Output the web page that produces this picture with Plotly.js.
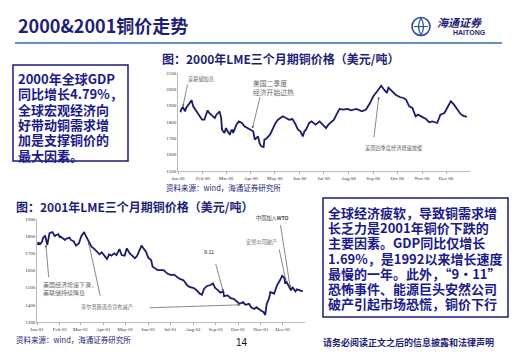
<!DOCTYPE html>
<html><head><meta charset="utf-8">
<script src="https://cdn.plot.ly/plotly-3.0.1.min.js"></script>
<style>html,body{margin:0;padding:0;background:#fff}#c{width:520px;height:359px}</style>
</head><body><div id="c"></div>
<script>
// ---- data: 2000 LME 3-month copper ----
var dates2000 = ['2000-01-04','2000-01-05','2000-01-07','2000-01-10','2000-01-11','2000-01-14','2000-01-18','2000-01-20','2000-01-24','2000-01-26','2000-01-31',
'2000-02-03','2000-02-07','2000-02-09','2000-02-14','2000-02-16','2000-02-18','2000-02-22','2000-02-24','2000-02-25','2000-02-28',
'2000-03-01','2000-03-03','2000-03-06','2000-03-07','2000-03-09','2000-03-10','2000-03-14','2000-03-17','2000-03-21','2000-03-24','2000-03-28','2000-03-31',
'2000-04-04','2000-04-06','2000-04-10','2000-04-12','2000-04-14','2000-04-17','2000-04-18','2000-04-20','2000-04-25','2000-04-28',
'2000-05-02','2000-05-05','2000-05-11','2000-05-15','2000-05-19','2000-05-23','2000-05-26','2000-05-30',
'2000-06-02','2000-06-05','2000-06-07','2000-06-09','2000-06-13','2000-06-16','2000-06-21','2000-06-26','2000-06-30',
'2000-07-04','2000-07-07','2000-07-12','2000-07-14','2000-07-17','2000-07-21','2000-07-25','2000-07-31',
'2000-08-04','2000-08-11','2000-08-18','2000-08-23','2000-08-28',
'2000-09-01','2000-09-06','2000-09-11','2000-09-14','2000-09-18','2000-09-20','2000-09-25','2000-09-29',
'2000-10-04','2000-10-09','2000-10-12','2000-10-16','2000-10-20','2000-10-24','2000-10-27',
'2000-11-02','2000-11-06','2000-11-10','2000-11-14','2000-11-20','2000-11-24','2000-11-29',
'2000-12-04','2000-12-07','2000-12-11','2000-12-15','2000-12-19','2000-12-22','2000-12-27'];
var price2000 = [1859,1876,1892,1865,1885,1906,1933,1896,1865,1845,1814,
1814,1871,1855,1835,1824,1845,1865,1824,1753,1733,
1763,1743,1722,1743,1753,1733,1784,1804,1794,1773,1763,1753,
1743,1692,1712,1671,1651,1647,1692,1696,1722,1753,
1794,1814,1835,1824,1814,1818,1794,1753,
1743,1712,1743,1753,1794,1804,1784,1804,1784,
1763,1784,1804,1814,1845,1880,1876,1880,
1871,1880,1865,1876,1916,
1957,1988,2022,2002,1978,2010,1988,1967,
1953,1947,1937,1896,1886,1835,1845,
1831,1818,1798,1804,1794,1845,1855,
1896,1927,1906,1876,1851,1839,1831];

// ---- data: 2001 LME 3-month copper ----
var dates2001 = ['2001-01-02','2001-01-03','2001-01-05','2001-01-08','2001-01-09','2001-01-11','2001-01-12','2001-01-15','2001-01-17','2001-01-18','2001-01-22','2001-01-23','2001-01-25','2001-01-26','2001-01-30',
'2001-02-01','2001-02-02','2001-02-05','2001-02-08','2001-02-09','2001-02-14','2001-02-16','2001-02-20','2001-02-23','2001-02-27',
'2001-03-02','2001-03-06','2001-03-08','2001-03-09','2001-03-13','2001-03-16','2001-03-19','2001-03-23','2001-03-27','2001-03-30',
'2001-04-02','2001-04-06','2001-04-09','2001-04-12','2001-04-16','2001-04-19','2001-04-23','2001-04-26','2001-04-30',
'2001-05-03','2001-05-07','2001-05-10','2001-05-14','2001-05-17','2001-05-21','2001-05-23','2001-05-25','2001-05-29',
'2001-06-01','2001-06-05','2001-06-07','2001-06-11','2001-06-14','2001-06-18','2001-06-22','2001-06-27',
'2001-07-02','2001-07-06','2001-07-10','2001-07-13','2001-07-19','2001-07-24','2001-07-27',
'2001-08-02','2001-08-06','2001-08-10','2001-08-13','2001-08-16','2001-08-20','2001-08-24','2001-08-28','2001-08-31',
'2001-09-04','2001-09-07','2001-09-11','2001-09-12','2001-09-17','2001-09-21','2001-09-25','2001-09-28',
'2001-10-03','2001-10-08','2001-10-11','2001-10-16','2001-10-19','2001-10-23','2001-10-26',
'2001-11-01','2001-11-05','2001-11-07','2001-11-09','2001-11-12','2001-11-14','2001-11-19','2001-11-21','2001-11-23','2001-11-27','2001-11-30',
'2001-12-03','2001-12-04','2001-12-06','2001-12-10','2001-12-12','2001-12-14','2001-12-18','2001-12-20','2001-12-24','2001-12-28'];
var price2001 = [1749,1765,1753,1769,1788,1798,1804,1749,1788,1818,1824,1818,1798,1804,1812,
1792,1798,1788,1778,1784,1792,1778,1769,1745,1759,
1798,1824,1804,1796,1765,1739,1729,1710,1694,1706,
1686,1667,1694,1686,1700,1690,1725,1690,1686,
1729,1700,1686,1671,1686,1729,1745,1733,1710,
1675,1661,1622,1612,1602,1602,1602,1582,
1573,1576,1563,1553,1543,1514,1504,
1498,1484,1465,1459,1494,1510,1514,1524,1498,
1484,1471,1478,1451,1455,1439,1435,1425,
1406,1416,1400,1406,1386,1376,1386,
1367,1357,1341,1406,1435,1475,1465,1494,1514,1543,1569,
1557,1524,1533,1494,1484,1504,1478,1490,1484,1478];

// ---- texts ----
var pageTitle = '2000&2001铜价走势';
var chartTitle2000 = '图：2000年LME三个月期铜价格（美元/吨）';
var chartTitle2001 = '图：2001年LME三个月期铜价格（美元/吨）';
var sourceText = '资料来源：wind，海通证券研究所';
var box2000Lines = ['2000年全球GDP','同比增长4.79%，','全球宏观经济向','好带动铜需求增','加是支撑铜价的','最大因素。'];
var box2001Lines = ['全球经济疲软，导致铜需求增','长乏力是2001年铜价下跌的','主要因素。GDP同比仅增长','1.69%，是1992以来增长速度','最慢的一年。此外，“9·11”','恐怖事件、能源巨头安然公司','破产引起市场恐慌，铜价下行'];
var footerText = '请务必阅读正文之后的信息披露和法律声明';
var pageNumber = '14';

var W = 520, H = 359;
function X(px){return px/W;}
function Y(py){return 1-py/H;}
var NAVY = '#1e1e78';
var CJK = 'Noto Sans CJK SC, sans-serif';
var ann = [], shapes = [];
function txt(s, x, y, size, opt){
  opt = opt||{};
  ann.push({xref:'paper',yref:'paper',x:X(x),y:Y(y),xanchor:opt.xa||'left',yanchor:opt.ya||'middle',align:'left',
    text:opt.bold?('<b>'+s+'</b>'):s,showarrow:false,borderpad:0,
    font:{family:opt.family||CJK,size:size,color:opt.color||NAVY}});
}
function arrow(xref,yref,xd,yd,ax,ay){
  ann.push({xref:xref,yref:yref,x:xd,y:yd,ax:ax,ay:ay,axref:'pixel',ayref:'pixel',text:'',showarrow:true,
    arrowhead:2,arrowsize:0.7,arrowwidth:0.7,arrowcolor:'#555',standoff:0});
}
function boxText(lines, x, yTop, spacing, glyph){
  var base = spacing/1.3;
  var s = lines.map(function(l){return '<span style="font-size:'+glyph+'px">'+l+'</span>';}).join('<br>');
  txt(s, x, yTop, base, {bold:true, color:'#1a1a8a', ya:'top'});
}

// page header
txt(pageTitle, 17, 25, 18, {bold:true});
shapes.push({type:'line',xref:'paper',yref:'paper',x0:X(15),x1:X(502),y0:Y(43),y1:Y(43),line:{color:'#2e6db4',width:1.6}});
// logo
shapes.push({type:'circle',xref:'paper',yref:'paper',x0:X(412),x1:X(430),y0:Y(35.5),y1:Y(17.5),line:{color:'#2b4f9a',width:1.6},fillcolor:'#fff'});
shapes.push({type:'path',xref:'paper',yref:'paper',path:'M '+X(414)+' '+Y(26.5)+' L '+X(428)+' '+Y(26.5)+' M '+X(421)+' '+Y(18)+' Q '+X(416)+' '+Y(26.5)+' '+X(421)+' '+Y(35)+' M '+X(421)+' '+Y(18)+' Q '+X(426)+' '+Y(26.5)+' '+X(421)+' '+Y(35),line:{color:'#2b4f9a',width:1.2}});
txt('<i>海通证券</i>', 436, 22, 11, {bold:true});
txt('HAITONG', 452, 33, 7, {bold:true, family:'Liberation Sans, Arial'});

// chart titles & sources
txt(chartTitle2000, 161, 58, 12, {bold:true});
txt(sourceText, 165, 187, 7.5);
txt(chartTitle2001, 15, 206, 12, {bold:true});
txt(sourceText, 15, 339, 7.5);
txt(pageNumber, 242, 342, 10, {color:'#111', family:'Liberation Sans, Arial', xa:'center'});
txt(footerText, 322, 342, 9, {bold:true});

// boxes
shapes.push({type:'rect',xref:'paper',yref:'paper',x0:X(13),x1:X(128),y0:Y(161),y1:Y(65),line:{color:'#1a1a80',width:1.5}});
boxText(box2000Lines, 17, 68, 15.3, 13);
shapes.push({type:'rect',xref:'paper',yref:'paper',x0:X(323),x1:X(508),y0:Y(317),y1:Y(198),line:{color:'#1a1a80',width:1.5}});
boxText(box2001Lines, 327, 202, 15.2, 13);

// chart annotations 2000
var AC = '#666', AS = 5.2;
txt('美联储加息', 187, 79, AS, {color:AC});
arrow('x','y','2000-01-07',1892, 5, -24);
txt('美国二季度<br>经济开始过热', 252, 87.5, 6.8, {color:AC});
arrow('x','y','2000-04-03',1760, 8, -33);
txt('美国四季度经济增速放缓', 364, 148, AS, {color:AC});
arrow('x','y','2000-09-08',1955, -5, 42);
// chart annotations 2001
txt('美国经济增速下滑，<br>美联储持续降息', 42, 288.5, 6, {color:AC});
arrow('x2','y2','2001-01-13',1750, 3, 34);
txt('菲尔普斯道奇宣布减产', 80, 307, AS, {color:AC});
arrow('x2','y2','2001-03-12',1765, 12, 55);
arrow('x2','y2','2001-10-04',1400, -92, 3);
txt('9.11', 203, 252, 5.5, {color:'#333', family:'Liberation Sans, Arial'});
arrow('x2','y2','2001-09-11',1478, -8, -29);
txt('安然公司破产', 245, 242, AS, {color:AC});
arrow('x2','y2','2001-12-05',1540, -7, -33);
txt('中国加入<b>WTO</b>', 255, 218, AS, {color:'#444'});
arrow('x2','y2','2001-12-11',1500, -10, -64);

var LINE = {color:'#1b1b6b', width:1.8};
var data = [
  {x:dates2000, y:price2000, type:'scatter', mode:'lines', line:LINE, xaxis:'x', yaxis:'y', hoverinfo:'skip'},
  {x:dates2001, y:price2001, type:'scatter', mode:'lines', line:LINE, xaxis:'x2', yaxis:'y2', hoverinfo:'skip'}
];
var tickFont = {family:'Liberation Serif, serif', size:5, color:'#333'};
function xa(domain, range, fmt, anchor){
  return {type:'date', domain:domain, range:range, anchor:anchor, dtick:'M1', tick0:range[0], tickformat:fmt,
    showline:true, linecolor:'#aaa', linewidth:0.8, showgrid:false, zeroline:false, ticks:'outside', ticklen:2, tickcolor:'#aaa',
    tickfont:tickFont, fixedrange:true};
}
function ya(domain, range, anchor){
  return {domain:domain, range:range, anchor:anchor, dtick:100, tick0:range[0], showline:true, linecolor:'#aaa', linewidth:0.8,
    showgrid:false, zeroline:false, ticks:'', tickfont:tickFont, fixedrange:true};
}
var layout = {
  width:W, height:H, margin:{l:0,r:0,t:0,b:0}, paper_bgcolor:'#fff', plot_bgcolor:'#fff', showlegend:false,
  xaxis: xa([X(178),X(470)], ['2000-01-01','2000-12-31'], '%b %y', 'y'),
  yaxis: ya([Y(171),Y(73)], [1500,2100], 'x'),
  xaxis2: xa([X(37),X(305)], ['2001-01-01','2001-12-31'], '%b-%y', 'y2'),
  yaxis2: ya([Y(322),Y(219)], [1300,1900], 'x2'),
  annotations: ann, shapes: shapes
};
Plotly.newPlot('c', data, layout, {staticPlot:true, displayModeBar:false});
</script></body></html>
